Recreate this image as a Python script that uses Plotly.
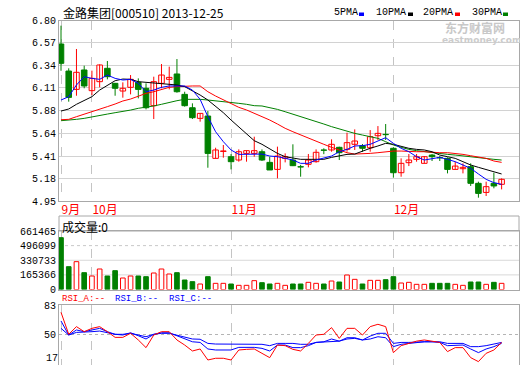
import plotly.graph_objects as go

# ---------------- data ----------------
month_labels = ["9月", "10月", "11月", "12月"]
month_days = [4, 18, 21, 15]

opens = [6.559, 6.282, 6.094, 6.293, 6.081, 6.173, 6.310, 6.156, 6.077, 6.115,
         6.166, 6.105, 5.927, 6.156, 6.197, 6.252, 6.043, 5.906, 5.797, 5.821,
         5.387, 5.458, 5.404, 5.370, 5.438, 5.438, 5.455, 5.346, 5.274, 5.387,
         5.370, 5.302, 5.326, 5.353, 5.473, 5.473, 5.500, 5.479, 5.531, 5.517,
         5.496, 5.619, 5.633, 5.490, 5.240, 5.343, 5.377, 5.336, 5.421, 5.395,
         5.387, 5.274, 5.281, 5.302, 5.131, 5.038, 5.131, 5.121]
highs = [6.747, 6.310, 6.508, 6.337, 6.286, 6.350, 6.385, 6.160, 6.166, 6.241,
         6.207, 6.156, 6.224, 6.354, 6.327, 6.405, 6.070, 5.951, 5.848, 5.872,
         5.496, 5.524, 5.431, 5.479, 5.466, 5.609, 5.479, 5.404, 5.507, 5.438,
         5.531, 5.320, 5.432, 5.479, 5.490, 5.582, 5.507, 5.650, 5.684, 5.534,
         5.677, 5.718, 5.739, 5.500, 5.387, 5.432, 5.432, 5.411, 5.431, 5.411,
         5.397, 5.353, 5.336, 5.336, 5.148, 5.148, 5.240, 5.182]
lows = [6.285, 5.968, 6.029, 6.105, 6.036, 6.115, 6.197, 6.029, 6.009, 6.043,
        6.002, 5.889, 5.790, 6.105, 6.094, 6.060, 5.917, 5.790, 5.763, 5.291,
        5.387, 5.394, 5.274, 5.353, 5.353, 5.404, 5.360, 5.268, 5.182, 5.346,
        5.308, 5.199, 5.295, 5.343, 5.430, 5.455, 5.370, 5.455, 5.473, 5.455,
        5.455, 5.575, 5.575, 5.189, 5.199, 5.308, 5.353, 5.336, 5.360, 5.360,
        5.233, 5.274, 5.233, 5.104, 4.984, 5.001, 5.080, 5.069]
closes = [6.361, 6.012, 6.269, 6.129, 6.207, 6.344, 6.224, 6.105, 6.105, 6.197,
          6.094, 5.906, 6.173, 6.241, 6.217, 6.070, 5.927, 5.804, 5.848, 5.438,
          5.473, 5.463, 5.353, 5.455, 5.466, 5.466, 5.370, 5.268, 5.411, 5.404,
          5.312, 5.298, 5.370, 5.449, 5.470, 5.531, 5.445, 5.548, 5.565, 5.490,
          5.609, 5.643, 5.630, 5.240, 5.336, 5.370, 5.404, 5.404, 5.404, 5.392,
          5.274, 5.308, 5.295, 5.131, 5.028, 5.097, 5.104, 5.172]
volumes = [586000, 258000, 314700, 190300, 152600, 231800, 152600, 212900, 130000, 152600,
           152600, 145100, 186600, 231800, 175300, 190300, 107400, 88500, 62200, 145100,
           69700, 69700, 62200, 47100, 47100, 99900, 77200, 62200, 69700, 47100,
           62200, 62200, 81000, 69700, 62200, 96100, 84800, 164000, 115000, 62200,
           103700, 103700, 111200, 145100, 73500, 81000, 58400, 58400, 69700, 69700,
           69700, 58400, 47100, 84800, 84800, 58400, 81000, 69700]
ma5 = [5.985, 6.019, 6.139, 6.224, 6.207, 6.197, 6.241, 6.207, 6.190, 6.197,
       6.156, 6.070, 6.087, 6.115, 6.129, 6.132, 6.129, 6.087, 5.992, 5.814,
       5.660, 5.558, 5.473, 5.428, 5.431, 5.431, 5.431, 5.411, 5.404, 5.387,
       5.370, 5.336, 5.336, 5.370, 5.387, 5.411, 5.455, 5.479, 5.514, 5.517,
       5.531, 5.568, 5.599, 5.541, 5.490, 5.455, 5.404, 5.370, 5.387, 5.397,
       5.377, 5.353, 5.319, 5.285, 5.227, 5.172, 5.138, 5.121]
ma10 = [5.872, 5.893, 5.941, 5.978, 6.019, 6.087, 6.139, 6.183, 6.200, 6.197,
        6.173, 6.166, 6.163, 6.156, 6.149, 6.139, 6.122, 6.081, 6.036, 5.985,
        5.924, 5.855, 5.780, 5.712, 5.643, 5.568, 5.531, 5.483, 5.438, 5.404,
        5.387, 5.377, 5.377, 5.377, 5.377, 5.397, 5.411, 5.428, 5.431, 5.462,
        5.490, 5.514, 5.541, 5.531, 5.507, 5.490, 5.479, 5.473, 5.455, 5.421,
        5.404, 5.387, 5.353, 5.319, 5.295, 5.274, 5.250, 5.227]
ma20 = [5.783, 5.787, 5.814, 5.838, 5.865, 5.889, 5.917, 5.944, 5.975, 5.995,
        6.026, 6.053, 6.070, 6.094, 6.115, 6.122, 6.129, 6.129, 6.129, 6.070,
        6.026, 5.985, 5.951, 5.910, 5.883, 5.848, 5.821, 5.780, 5.739, 5.695,
        5.660, 5.626, 5.592, 5.558, 5.531, 5.500, 5.473, 5.445, 5.431, 5.431,
        5.438, 5.445, 5.455, 5.462, 5.462, 5.455, 5.455, 5.455, 5.449, 5.445,
        5.445, 5.438, 5.428, 5.414, 5.404, 5.387, 5.360, 5.346]
ma30 = [5.773, 5.777, 5.787, 5.797, 5.814, 5.831, 5.841, 5.855, 5.865, 5.882,
        5.900, 5.910, 5.924, 5.941, 5.961, 5.978, 5.992, 5.995, 5.992, 5.985,
        5.978, 5.968, 5.961, 5.951, 5.941, 5.927, 5.924, 5.910, 5.889, 5.865,
        5.841, 5.814, 5.787, 5.763, 5.739, 5.712, 5.688, 5.667, 5.643, 5.626,
        5.609, 5.592, 5.558, 5.524, 5.500, 5.479, 5.466, 5.455, 5.449, 5.438,
        5.428, 5.421, 5.411, 5.404, 5.394, 5.387, 5.377, 5.370]
rsi_a = [74.9, 50.5, 59.0, 53.4, 57.1, 59.0, 53.4, 47.1, 47.1, 51.6,
         44.2, 35.7, 49.7, 53.4, 53.4, 44.2, 38.6, 32.0, 34.2, 22.0,
         23.9, 23.9, 22.0, 33.1, 33.8, 34.2, 29.4, 24.6, 38.6, 37.9,
         33.8, 32.0, 40.4, 49.7, 50.5, 57.9, 46.0, 57.1, 57.1, 49.7,
         59.0, 61.6, 59.0, 30.2, 37.9, 40.4, 42.9, 44.2, 42.9, 41.5,
         31.3, 35.7, 35.7, 24.6, 20.2, 29.4, 33.1, 41.5]
rsi_b = [65.3, 49.7, 55.3, 53.4, 55.3, 57.1, 53.4, 50.5, 49.7, 52.2,
         48.9, 45.3, 50.5, 52.2, 52.2, 48.9, 46.0, 42.2, 41.5, 34.2,
         33.1, 33.1, 33.1, 36.0, 36.0, 36.0, 34.9, 32.0, 38.6, 38.6,
         35.7, 35.7, 37.9, 41.5, 42.2, 45.3, 42.9, 46.7, 46.7, 44.2,
         45.3, 47.8, 46.7, 36.8, 39.4, 40.4, 41.5, 42.2, 42.2, 41.5,
         37.9, 38.6, 38.6, 34.2, 30.2, 34.2, 36.8, 40.4]
rsi_c = [57.1, 49.7, 52.6, 52.6, 53.4, 54.1, 52.2, 50.5, 50.5, 51.6,
         49.7, 47.8, 50.5, 51.6, 51.6, 49.7, 47.8, 45.3, 45.0, 40.4,
         39.7, 39.7, 39.7, 39.7, 39.7, 39.7, 39.4, 37.9, 40.4, 40.4,
         40.4, 39.4, 39.4, 41.5, 42.2, 42.2, 42.9, 45.3, 46.0, 44.2,
         48.5, 51.6, 51.6, 40.4, 41.5, 41.5, 42.2, 42.2, 42.2, 42.2,
         40.4, 40.4, 40.4, 36.8, 36.8, 37.9, 39.4, 41.5]
price_tick_labels = ["4.95", "5.18", "5.41", "5.64", "5.88", "6.11", "6.34", "6.57", "6.80"]
volume_tick_labels = ["0", "165366", "330733", "496099", "661465"]
rsi_tick_labels = ["17", "50", "83"]
ma_names = ["5PMA", "10PMA", "20PMA", "30PMA"]

# ---------------- styling / geometry ----------------
W, H = 520, 365
PL, PR = 59, 519


def fx(x):
    return (x - PL) / (PR - PL)


def fy(y):
    return 1 - y / H


RED, GREEN, BLUE, BLACK = "#ff0000", "#008000", "#0000ff", "#000000"
FRAME, GRID, VGRID = "#a8a8a8", "#d2d2d2", "#c4c4c4"
MONO, CJK = "Liberation Mono", "Noto Sans CJK SC"

n = len(closes)
idx = list(range(n))
starts, s = [], 0
for d in month_days:
    starts.append(s)
    s += d
up = [c >= o for o, c in zip(opens, closes)]
fills = ["white" if u else GREEN for u in up]
edges = [RED if u else GREEN for u in up]

fig = go.Figure()

# wicks
for flag, col in ((True, RED), (False, GREEN)):
    xs, ys = [], []
    for i in idx:
        if up[i] == flag:
            xs += [i, i, None]
            ys += [lows[i], highs[i], None]
    fig.add_trace(go.Scatter(x=xs, y=ys, mode="lines", line=dict(color=col, width=1),
                             xaxis="x", yaxis="y", hoverinfo="skip", showlegend=False))
# bodies
fig.add_trace(go.Bar(x=idx, base=[min(o, c) for o, c in zip(opens, closes)],
                     y=[max(abs(c - o), 0.002) for o, c in zip(opens, closes)],
                     width=0.72, marker=dict(color=fills, line=dict(color=edges, width=1)),
                     xaxis="x", yaxis="y", showlegend=False))
# moving averages
for vals, col in ((ma30, GREEN), (ma20, RED), (ma10, BLACK), (ma5, BLUE)):
    fig.add_trace(go.Scatter(x=idx, y=vals, mode="lines", line=dict(color=col, width=1),
                             xaxis="x", yaxis="y", showlegend=False))
# volume
fig.add_trace(go.Bar(x=idx, y=volumes, width=0.6,
                     marker=dict(color=fills, line=dict(color=edges, width=1)),
                     xaxis="x2", yaxis="y2", showlegend=False))
# RSI
for vals, col in ((rsi_c, BLUE), (rsi_b, BLUE), (rsi_a, RED)):
    fig.add_trace(go.Scatter(x=idx, y=vals, mode="lines", line=dict(color=col, width=1),
                             xaxis="x3", yaxis="y3", showlegend=False))
# invisible carrier so the label-only overlay axis (bottom label "17") is drawn
fig.add_trace(go.Scatter(x=idx, y=rsi_a, mode="lines", line=dict(width=0), opacity=0,
                         hoverinfo="skip", xaxis="x3", yaxis="y5", showlegend=False))

xr = [-2 / 7.73, -2 / 7.73 + (PR - PL) / 7.73]
xcommon = dict(range=xr, tickvals=starts, showgrid=True, gridcolor=VGRID, griddash="dash",
               gridwidth=1, zeroline=False, showline=True, linecolor=FRAME, linewidth=1,
               mirror=True, ticks="", automargin=False)
ycommon = dict(showline=True, linecolor=FRAME, linewidth=1, mirror=True, ticks="",
               zeroline=False, automargin=False,
               tickfont=dict(family=MONO, size=10, color=BLACK))
overlay_common = dict(showgrid=False, showline=False, zeroline=False, ticks="",
                      automargin=False, ticklabelposition="outside top", side="left",
                      tickfont=dict(family=MONO, size=10, color=BLACK))

price_vals = [float(t) for t in price_tick_labels]
vol_vals = [float(t) for t in volume_tick_labels]
rsi_vals = [float(t) for t in rsi_tick_labels]

fig.update_layout(
    width=W, height=H, margin=dict(l=PL, r=W - PR, t=0, b=0, autoexpand=False),
    paper_bgcolor="white", plot_bgcolor="white", barmode="overlay", showlegend=False,
    xaxis=dict(**xcommon, anchor="y", ticktext=month_labels, showticklabels=True,
               tickfont=dict(family=CJK, size=12, color=RED), ticklabelposition="outside right",
               ticklabelstandoff=-2),
    xaxis2=dict(**xcommon, anchor="y2", showticklabels=False),
    xaxis3=dict(**xcommon, anchor="y3", showticklabels=False),
    yaxis=dict(**ycommon, domain=[fy(201), fy(20.5)], range=[price_vals[0], price_vals[-1]],
               tickvals=price_vals, ticktext=price_tick_labels, showgrid=True, gridcolor=GRID),
    yaxis2=dict(**ycommon, domain=[fy(289.5), fy(231)], range=[vol_vals[0], vol_vals[-1]],
                tickvals=vol_vals, ticktext=volume_tick_labels, showgrid=False),
    yaxis3=dict(**ycommon, domain=[fy(364.5), fy(305)], range=[rsi_vals[0], rsi_vals[-1]],
                tickvals=rsi_vals[1:], ticktext=rsi_tick_labels[1:], showgrid=True,
                gridcolor="#b4b4b4", griddash="dot"),
    yaxis5=dict(**overlay_common, overlaying="y3", anchor="x3",
                range=[rsi_vals[0], rsi_vals[-1]],
                tickvals=rsi_vals[:1], ticktext=rsi_tick_labels[:1]),
)

shapes = []
# volume title box
shapes.append(dict(type="rect", xref="paper", yref="paper", x0=0, x1=1, y0=fy(231), y1=fy(216),
                   line=dict(color=FRAME, width=1), fillcolor="rgba(0,0,0,0)", layer="above"))
# volume gridlines
vol_grid_dash = ["solid", "solid", "dot"]
for v, dsh in zip(vol_vals[1:4], vol_grid_dash):
    shapes.append(dict(type="line", xref="paper", yref="y2", x0=0, x1=1, y0=v, y1=v,
                       line=dict(color="#c8c8c8" if dsh == "dot" else "#d8d8d8", width=1, dash=dsh),
                       layer="below"))
# legend swatches
legend_x = [332, 374, 421, 470]
swatch_x = [359, 408, 455, 503]
ma_cols = [BLUE, BLACK, RED, GREEN]
annotations = []
for name, lx, sx, col in zip(ma_names, legend_x, swatch_x, ma_cols):
    annotations.append(dict(text=name, x=fx(lx), y=fy(13), xref="paper", yref="paper",
                            xanchor="left", yanchor="middle", showarrow=False,
                            font=dict(family=MONO, size=10, color=BLACK)))
    shapes.append(dict(type="rect", xref="paper", yref="paper", x0=fx(sx), x1=fx(sx + 5),
                       y0=fy(16), y1=fy(12.5), line=dict(width=0), fillcolor=col))

annotations.append(dict(text="金路集团[000510] 2013-12-25", x=fx(61), y=fy(12.5),
                        xref="paper", yref="paper", xanchor="left", yanchor="middle",
                        showarrow=False, font=dict(family=CJK, size=12, color=BLACK)))
annotations.append(dict(text="成交量:0", x=fx(60), y=fy(226), xref="paper", yref="paper",
                        xanchor="left", yanchor="middle", showarrow=False,
                        font=dict(family=CJK, size=12, color=BLACK)))
for txt, lx, col in (("RSI_A:--", 59.5, RED), ("RSI_B:--", 112.5, BLUE), ("RSI_C:--", 166.5, BLUE)):
    annotations.append(dict(text=txt, x=fx(lx), y=fy(299), xref="paper", yref="paper",
                            xanchor="left", yanchor="middle", showarrow=False,
                            font=dict(family=MONO, size=9, color=col)))
# watermark
annotations.append(dict(text="<b>东方财富网</b>", x=fx(443), y=fy(27), xref="paper", yref="paper",
                        xanchor="left", yanchor="middle", showarrow=False,
                        font=dict(family=CJK, size=12, color="#c8c8c8")))
annotations.append(dict(text="<b>eastmoney.com</b>", x=fx(440), y=fy(40), xref="paper",
                        yref="paper", xanchor="left", yanchor="middle", showarrow=False,
                        font=dict(family="DejaVu Sans", size=9, color="#cccccc")))

fig.update_layout(shapes=shapes, annotations=annotations)
fig.write_html("out.html", config={"displayModeBar": False},
               post_script="document.body.style.margin='0';document.body.style.padding='0';")
